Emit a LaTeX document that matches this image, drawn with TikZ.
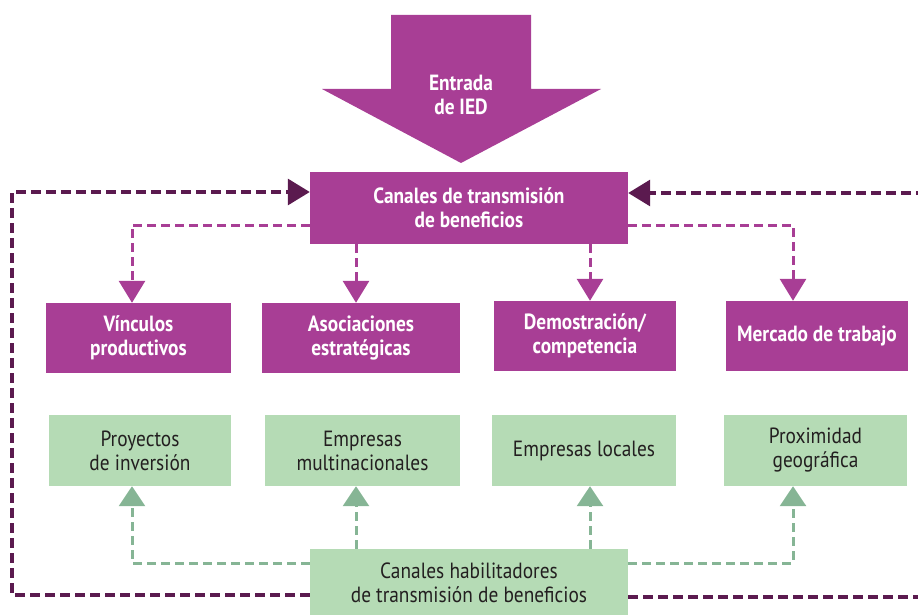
\documentclass[tikz,border=0pt]{standalone}
\usepackage{fontspec}
\setmainfont[FakeStretch=0.88]{PT Sans}
\usetikzlibrary{arrows.meta}
\definecolor{pur}{HTML}{A83E95}
\definecolor{dpur}{HTML}{5B1A4F}
\definecolor{gfill}{HTML}{B5DBB5}
\definecolor{garr}{HTML}{86B595}
\definecolor{txt}{HTML}{231F20}
\tikzset{
  pbox/.style={fill=pur, text=white, font=\bfseries\fontsize{22}{24}\selectfont, align=center, inner sep=0pt},
  gbox/.style={fill=gfill, text=txt, font=\fontsize{22}{24}\selectfont, align=center, inner sep=0pt},
  pk/.style={draw=pur, line width=3pt, dash pattern=on 9pt off 5pt, -{Triangle[length=22pt,width=26pt]}},
  gk/.style={draw=garr, line width=3pt, dash pattern=on 9pt off 5pt, -{Triangle[length=20pt,width=26pt]}},
  dk/.style={draw=dpur, line width=3.2pt, dash pattern=on 10pt off 5pt, -{Triangle[length=22pt,width=26pt]}},
}
\begin{document}
\begin{tikzpicture}[x=1pt,y=-1pt]
\useasboundingbox (0,0) rectangle (918,615);
\clip (0,0) rectangle (918,615);
% big arrow
\fill[pur] (391,15) -- (531,15) -- (531,89) -- (601,89) -- (461,163) -- (322,89) -- (391,89) -- cycle;
\node[text=white, font=\bfseries\fontsize{22}{24}\selectfont, align=center] (ied) at (461,95) {Entrada\\de IED};
% nodes
\node[pbox, minimum width=318pt, minimum height=72pt] (can) at (469,208) {Canales de transmisión\\de beneficios};
\node[pbox, minimum width=185pt, minimum height=70pt] (v1) at (138.5,338) {Vínculos\\productivos};
\node[pbox, minimum width=198pt, minimum height=70pt] (v2) at (361,338) {Asociaciones\\estratégicas};
\node[pbox, minimum width=182pt, minimum height=70pt] (v3) at (585,336) {Demostración/\\competencia};
\node[pbox, minimum width=182pt, minimum height=70pt] (v4) at (817,336) {Mercado de trabajo};
\node[gbox, minimum width=182pt, minimum height=71pt] (g1) at (140,450.5) {Proyectos\\de inversión};
\node[gbox, minimum width=195pt, minimum height=71pt] (g2) at (362.5,450.5) {Empresas\\multinacionales};
\node[gbox, minimum width=184pt, minimum height=71pt] (g3) at (584,450.5) {Empresas locales};
\node[gbox, minimum width=183pt, minimum height=71pt] (g4) at (815.5,450.5) {Proximidad\\geográfica};
\node[gbox, minimum width=318pt, minimum height=68pt] (hab) at (469,583) {Canales habilitadores\\de transmisión de beneficios};
% pink connectors
\draw[pk] ([yshift=-17pt]can.west) -| ([xshift=-6.5pt]v1.north);
\draw[pk] ([xshift=-5pt]v2.north |- can.south) -- ([xshift=-5pt]v2.north);
\draw[pk] ([xshift=5pt]v3.north |- can.south) -- ([xshift=5pt]v3.north);
\draw[pk] ([yshift=-17pt]can.east) -| ([xshift=-24pt]v4.north);
% green connectors
\draw[gk] ([yshift=20pt]hab.west) -| ([xshift=-8pt]g1.south);
\draw[gk] ([xshift=-6.5pt]g2.south |- hab.north) -- ([xshift=-6.5pt]g2.south);
\draw[gk] ([xshift=6pt]g3.south |- hab.north) -- ([xshift=6pt]g3.south);
\draw[gk] ([yshift=20pt]hab.east) -| ([xshift=-22.5pt]g4.south);
% dark feedback connectors
\coordinate (L) at (12,192);
\coordinate (R) at (935,193);
\draw[dk] ([yshift=-12pt]hab.west) -| (L) -- (can.west |- L);
\draw[dk] ([yshift=-14pt]hab.east) -| (R) -- (can.east |- R);
\end{tikzpicture}
\end{document}
